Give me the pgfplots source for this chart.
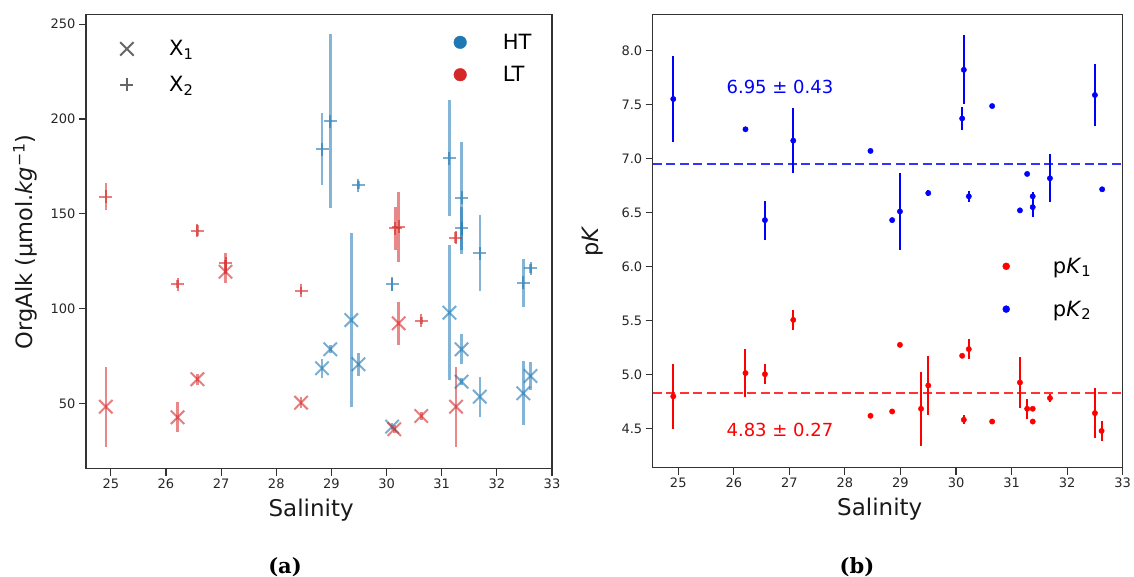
\documentclass[border=0pt]{standalone}
\usepackage{pgfplots}
\pgfplotsset{compat=1.18}
\usepackage{pgfplotstable}
\usepackage{fontspec}
\setmainfont{DejaVu Sans}
\newfontfamily\capfont{DejaVu Serif}
\definecolor{tabblue}{RGB}{31,119,180}
\definecolor{tabred}{RGB}{214,39,40}

% Left panel: HT, X1
\pgfplotstableread{
s v e
28.83 68.5 5
28.98 78.5 2
29.36 93.9 46
29.49 70.6 6
30.10 37.7 2
31.14 97.8 35.6
31.36 78.5 8
31.36 61.4 2
31.69 53.5 10.5
32.48 55.3 17
32.61 64.4 7.5
}\htxone
% Left panel: HT, X2
\pgfplotstableread{
s v e
28.83 184.0 19
28.98 198.9 46
29.49 165.1 2
30.10 112.9 3.5
31.14 179.2 30.6
31.36 158.4 29.5
31.36 142.3 11.4
31.69 129.1 20
32.48 113.6 12.6
32.61 121.2 2.5
}\htxtwo
% Left panel: LT, X1
\pgfplotstableread{
s v e
24.91 48.2 21
26.21 42.6 8
26.57 62.7 3
27.08 119.4 6
28.45 50.3 3
30.14 36.3 2
30.22 92.2 11.5
30.63 43.3 2
31.26 48.2 21
}\ltxone
% Left panel: LT, X2
\pgfplotstableread{
s v e
24.91 159.0 7
26.21 112.9 2
26.57 141.0 3
27.08 123.8 5.5
28.45 109.4 2
30.16 142.3 11.4
30.22 143.1 18.5
30.63 93.6 2
31.25 137.3 3
}\ltxtwo
% Right panel: pK2
\pgfplotstableread{
s v e
24.91 7.550 0.40
26.21 7.270 0
26.56 6.430 0.18
27.07 7.165 0.30
28.46 7.070 0
28.85 6.430 0
28.99 6.510 0.36
29.50 6.680 0.03
30.11 7.370 0.11
30.14 7.820 0.32
30.23 6.650 0.05
30.65 7.485 0
31.15 6.520 0
31.28 6.857 0
31.38 6.650 0.04
31.38 6.550 0.09
31.69 6.817 0.22
32.50 7.587 0.285
32.63 6.715 0
}\pktwo
% Right panel: pK1
\pgfplotstableread{
s v e
24.91 4.800 0.30
26.21 5.015 0.22
26.56 5.005 0.09
27.07 5.507 0.09
28.46 4.620 0
28.85 4.660 0
28.99 5.276 0
29.37 4.685 0.34
29.50 4.900 0.27
30.11 5.175 0
30.14 4.583 0.04
30.23 5.237 0.09
30.65 4.567 0
31.15 4.928 0.24
31.28 4.685 0.09
31.38 4.685 0
31.38 4.567 0
31.69 4.784 0.04
32.50 4.645 0.23
32.62 4.480 0.09
}\pkone

\pgfplotsset{
  common/.style={
    scale only axis,
    anchor=south west,
    axis line style={black!80, line width=1.1pt},
    tick align=outside,
    tick pos=left,
    major tick length=7pt,
    tick style={black!80, line width=1.1pt},
    xtick={25,26,...,33},
    xmax=33,
    tick label style={font=\fontsize{13}{15}\selectfont, text=black!85},
    /pgf/number format/assume math mode=true,
    xlabel={Salinity},
    xlabel style={font=\fontsize{23}{27}\selectfont, at={(axis description cs:0.483,-0.092)}, anchor=center, text=black!90},
    ylabel style={font=\fontsize{22.5}{27}\selectfont, anchor=center, text=black!90},
    legend cell align=left,
  },
  leftmark/.style n args={3}{only marks, mark=#1, mark size=#2,
    mark options={solid, draw=#3, line width=2pt, draw opacity=0.6},
    error bars/.cd, y dir=both, y explicit, error mark=none,
    error bar style={line width=2.5pt, draw=#3, draw opacity=0.55}, /pgfplots/.cd},
  rightmark/.style={only marks, mark=*, mark size=2.7pt,
    mark options={solid, draw=#1, fill=#1},
    error bars/.cd, y dir=both, y explicit, error mark=none,
    error bar style={line width=2pt, draw=#1}, /pgfplots/.cd},
  legtext/.style={legend style={draw=none, fill=none, inner sep=0pt,
    font=\fontsize{21}{25}\selectfont, nodes={inner sep=2pt, text depth=0.15em}}},
}

\begin{document}
\begin{tikzpicture}
\useasboundingbox (0pt,0pt) rectangle (1134pt,577pt);

% ---------------- Left panel (a) ----------------
\begin{axis}[common,
  at={(86pt,108.3pt)}, width=466pt, height=454pt,
  xmin=24.55, ymin=15.5, ymax=255,
  ytick={50,100,150,200,250},
  ylabel={OrgAlk (µmol.\textit{kg}\textsuperscript{−1})},
  ylabel style={at={(axis description cs:-0.131,0.5)}},
  legtext,
  legend style={at={(axis description cs:0.0702,0.9480)}, anchor=north west, row sep=15pt},
]
\addplot[forget plot, leftmark={x}{9.5pt}{tabblue}] table[x=s, y=v, y error=e]{\htxone};
\addplot[forget plot, leftmark={+}{6.5pt}{tabblue}] table[x=s, y=v, y error=e]{\htxtwo};
\addplot[forget plot, leftmark={x}{9.5pt}{tabred}] table[x=s, y=v, y error=e]{\ltxone};
\addplot[forget plot, leftmark={+}{6.5pt}{tabred}] table[x=s, y=v, y error=e]{\ltxtwo};
\addlegendimage{legend image code/.code={\path[draw=none, fill=none] (-8pt,-9pt) rectangle (40.3pt,9pt);
  \draw[black!60, line width=2pt] plot[mark=x, mark size=9.5pt] coordinates {(0pt,0pt)};}}
\addlegendentry{X\textsubscript{1}}
\addlegendimage{legend image code/.code={\path[draw=none, fill=none] (-8pt,-9pt) rectangle (40.3pt,9pt);
  \draw[black!60, line width=2pt] plot[mark=+, mark size=6.5pt] coordinates {(0pt,0pt)};}}
\addlegendentry{X\textsubscript{2}}
\end{axis}

% second legend (HT / LT) on the left panel
\begin{axis}[scale only axis, anchor=south west,
  at={(86pt,108.3pt)}, width=466pt, height=454pt,
  xmin=0, xmax=1, ymin=0, ymax=1, hide axis,
  legend cell align=left, legtext,
  legend style={at={(axis description cs:0.7854,0.9625)}, anchor=north west, row sep=11.6pt},
]
\addlegendimage{legend image code/.code={\path[draw=none, fill=none] (-8pt,-9pt) rectangle (40.7pt,9pt);
  \fill[tabblue] plot[mark=*, mark size=6.3pt] coordinates {(0pt,0pt)};}}
\addlegendentry{HT}
\addlegendimage{legend image code/.code={\path[draw=none, fill=none] (-8pt,-9pt) rectangle (40.7pt,9pt);
  \fill[tabred] plot[mark=*, mark size=6.3pt] coordinates {(0pt,0pt)};}}
\addlegendentry{LT}
\end{axis}

% ---------------- Right panel (b) ----------------
\begin{axis}[common,
  at={(652.7pt,109.3pt)}, width=470pt, height=453pt,
  xmin=24.54, ymin=4.14, ymax=8.33,
  ytick={4.5,5.0,...,8.0},
  yticklabel style={/pgf/number format/.cd, fixed, fixed zerofill, precision=1},
  ylabel={p\textit{K}},
  ylabel style={at={(axis description cs:-0.127,0.5)}},
  legtext,
  legend style={at={(axis description cs:0.7347,0.4680)}, anchor=north west, row sep=22pt},
]
\addplot[forget plot, blue, opacity=0.8, line width=2pt, dash pattern=on 9pt off 4.5pt]
  coordinates {(24.54,6.95) (33,6.95)};
\addplot[forget plot, red, opacity=0.8, line width=2pt, dash pattern=on 9pt off 4.5pt]
  coordinates {(24.54,4.83) (33,4.83)};
\addplot[forget plot, rightmark=blue] table[x=s, y=v, y error=e]{\pktwo};
\addplot[forget plot, rightmark=red] table[x=s, y=v, y error=e]{\pkone};
\node[text=blue, font=\fontsize{18}{21}\selectfont] at (axis cs:26.83,7.664) {6.95 ± 0.43};
\node[text=red, font=\fontsize{18}{21}\selectfont] at (axis cs:26.83,4.491) {4.83 ± 0.27};
\addlegendimage{legend image code/.code={\path[draw=none, fill=none] (-8pt,-9pt) rectangle (44.7pt,9pt);
  \fill[red] plot[mark=*, mark size=3.5pt] coordinates {(0pt,0pt)};}}
\addlegendentry{p\textit{K}\textsubscript{1}}
\addlegendimage{legend image code/.code={\path[draw=none, fill=none] (-8pt,-9pt) rectangle (44.7pt,9pt);
  \fill[blue] plot[mark=*, mark size=3.5pt] coordinates {(0pt,0pt)};}}
\addlegendentry{p\textit{K}\textsubscript{2}}
\end{axis}

\node[font=\capfont\bfseries\fontsize{21}{24}\selectfont] at (285pt,10pt) {(a)};
\node[font=\capfont\bfseries\fontsize{21}{24}\selectfont] at (857pt,10pt) {(b)};
\end{tikzpicture}
\end{document}
